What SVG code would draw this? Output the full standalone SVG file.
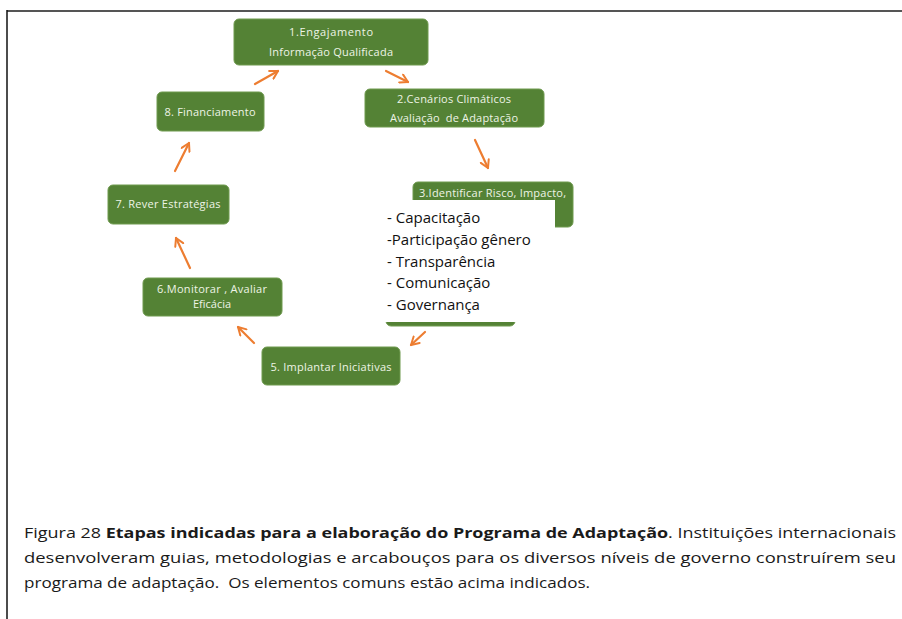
<svg xmlns="http://www.w3.org/2000/svg" width="902" height="619" viewBox="0 0 902 619">
<defs>
<style>
.box{fill:#548235;stroke:#6f9a4f;stroke-width:1}
.nt{font-family:"Open Sans","Liberation Sans",sans-serif;font-size:11px;fill:#eef4e6}
.lt{font-family:"Open Sans","Liberation Sans",sans-serif;font-size:15px;fill:#111}
.cap{font-family:"Open Sans","Liberation Sans",sans-serif;font-size:15px;fill:#1a1a1a}
.arr{stroke:#ed7d31;stroke-width:2.2;fill:none;stroke-linecap:round}
</style>
<marker id="ah" viewBox="0 0 10 10" refX="8" refY="5" markerWidth="5" markerHeight="5" orient="auto" markerUnits="strokeWidth">
<path d="M1,1 L8,5 L1,9" fill="none" stroke="#ed7d31" stroke-width="1.8" stroke-linecap="round" stroke-linejoin="round"/>
</marker>
</defs>
<rect width="902" height="619" fill="#fff"/>
<g id="frame">
<line x1="7" y1="11" x2="902" y2="11" stroke="#555" stroke-width="2"/>
<line x1="7" y1="10" x2="7" y2="619" stroke="#111" stroke-width="1.5"/>
</g>
<g id="n1"><rect class="box" x="234" y="19" width="194" height="46" rx="5"/>
<text class="nt" x="331" y="36" text-anchor="middle" textLength="84">1.Engajamento</text>
<text class="nt" x="331" y="56" text-anchor="middle" textLength="124">Informação Qualificada</text></g>
<g id="n2"><rect class="box" x="365" y="89" width="179" height="38" rx="5"/>
<text class="nt" x="454" y="103" text-anchor="middle" textLength="114">2.Cenários Climáticos</text>
<text class="nt" x="454" y="122" text-anchor="middle" xml:space="preserve" textLength="128">Avaliação  de Adaptação</text></g>
<g id="n3"><rect class="box" x="413" y="182" width="160" height="45" rx="5"/>
<text class="nt" x="419" y="197" textLength="147">3.Identificar Risco, Impacto,</text></g>
<g id="n4"><rect class="box" x="386" y="290" width="129" height="36" rx="5"/></g>
<g id="list"><rect x="384" y="200" width="171" height="122" fill="#fff"/>
<text class="lt" x="387" y="223">- Capacitação</text>
<text class="lt" x="387" y="245">-Participação gênero</text>
<text class="lt" x="387" y="267">- Transparência</text>
<text class="lt" x="387" y="288">- Comunicação</text>
<text class="lt" x="387" y="310">- Governança</text></g>
<g id="n5"><rect class="box" x="262" y="347" width="138" height="38" rx="5"/>
<text class="nt" x="331" y="371" text-anchor="middle" textLength="121">5. Implantar Iniciativas</text></g>
<g id="n6"><rect class="box" x="143" y="278" width="139" height="38" rx="5"/>
<text class="nt" x="212" y="293" text-anchor="middle" textLength="110">6.Monitorar , Avaliar</text>
<text class="nt" x="212" y="308" text-anchor="middle">Eficácia</text></g>
<g id="n7"><rect class="box" x="108" y="185" width="121" height="39" rx="5"/>
<text class="nt" x="168" y="208" text-anchor="middle" textLength="105">7. Rever Estratégias</text></g>
<g id="n8"><rect class="box" x="157" y="92" width="107" height="39" rx="5"/>
<text class="nt" x="210" y="116" text-anchor="middle" textLength="91">8. Financiamento</text></g>
<g id="connectors">
<line class="arr" x1="255" y1="84" x2="278" y2="71" marker-end="url(#ah)"/>
<line class="arr" x1="386" y1="71" x2="408" y2="82" marker-end="url(#ah)"/>
<line class="arr" x1="475" y1="140" x2="488" y2="168" marker-end="url(#ah)"/>
<line class="arr" x1="425" y1="332" x2="411" y2="345" marker-end="url(#ah)"/>
<line class="arr" x1="254" y1="343" x2="238" y2="327" marker-end="url(#ah)"/>
<line class="arr" x1="190" y1="268" x2="176" y2="238" marker-end="url(#ah)"/>
<line class="arr" x1="175" y1="171" x2="189" y2="143" marker-end="url(#ah)"/>
</g>
<g id="caption">
<text class="cap" x="24" y="538" textLength="872" lengthAdjust="spacingAndGlyphs">Figura 28 <tspan font-weight="bold">Etapas indicadas para a elaboração do Programa de Adaptação</tspan>. Instituições internacionais</text>
<text class="cap" x="24" y="563" textLength="872" lengthAdjust="spacingAndGlyphs">desenvolveram guias, metodologias e arcabouços para os diversos níveis de governo construírem seu</text>
<text class="cap" x="24" y="588" textLength="566" lengthAdjust="spacingAndGlyphs" xml:space="preserve">programa de adaptação.  Os elementos comuns estão acima indicados.</text>
</g>
</svg>
